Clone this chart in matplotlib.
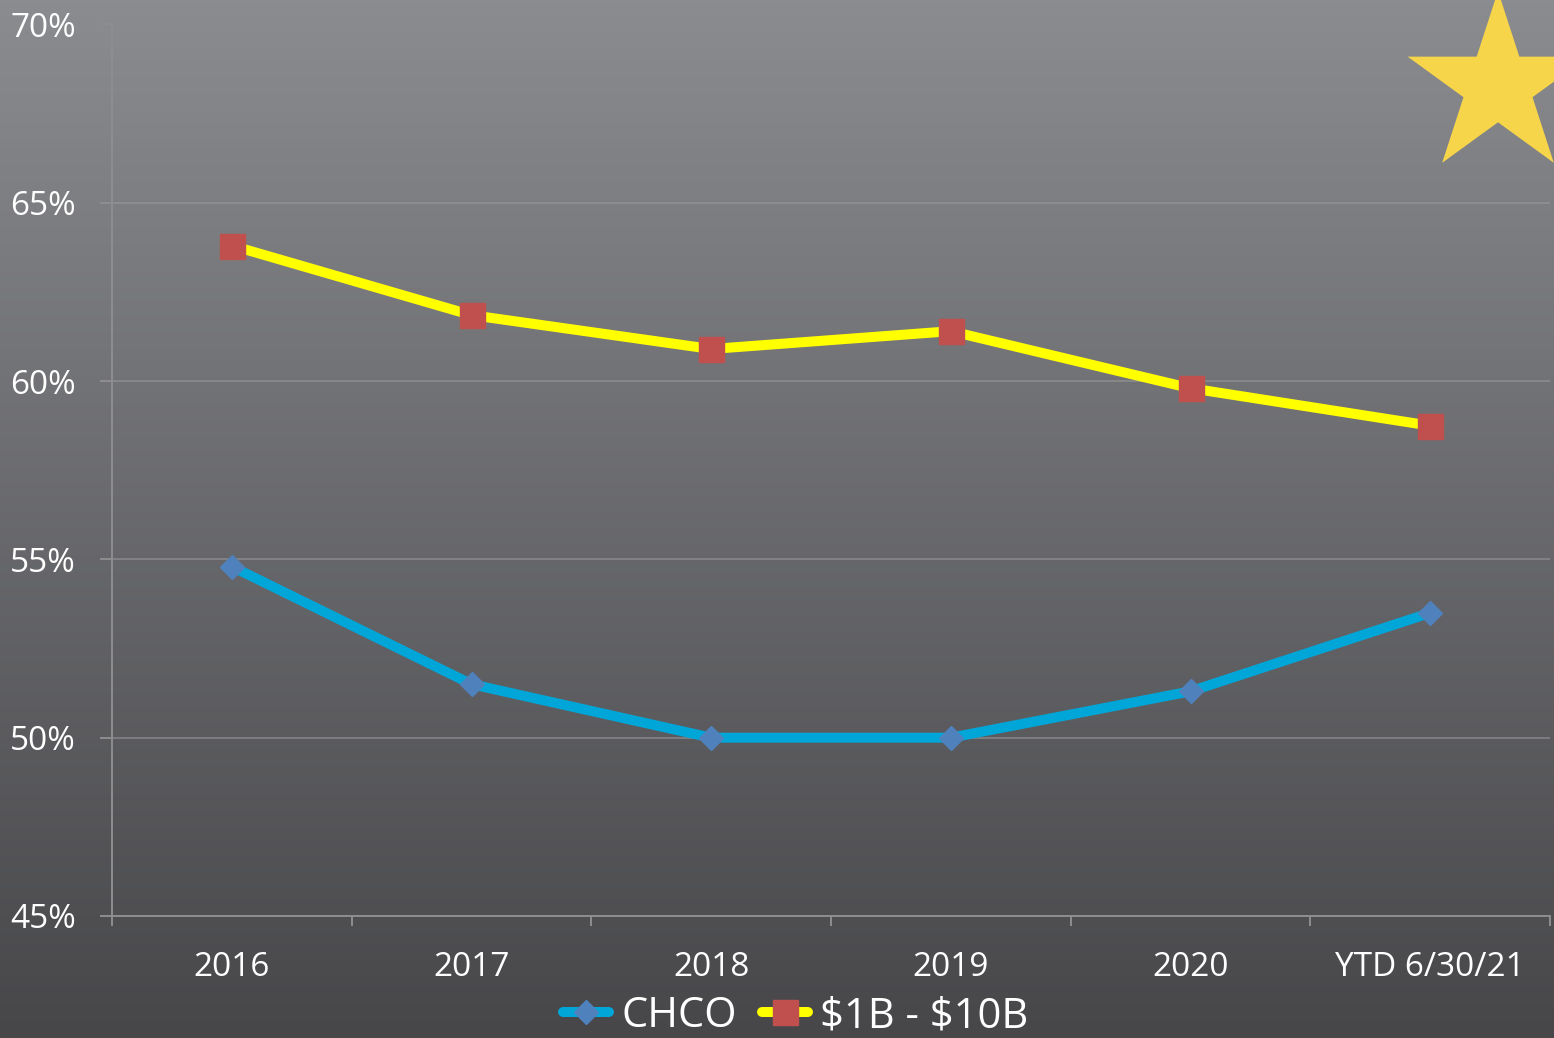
import matplotlib
matplotlib.use('Agg')
import matplotlib.pyplot as plt
import numpy as np
from matplotlib.colors import LinearSegmentedColormap
from matplotlib.patches import Polygon

plt.rcParams['font.family'] = ['Open Sans', 'DejaVu Sans']

categories = ['2016', '2017', '2018', '2019', '2020', 'YTD 6/30/21']
chco = [54.8, 51.5, 50.0, 50.0, 51.3, 53.5]
peer = [63.8, 61.85, 60.9, 61.4, 59.8, 58.75]
y_ticks = [45, 50, 55, 60, 65, 70]

W, H = 1554, 1038
fig = plt.figure(figsize=(W / 100, H / 100), dpi=100)

# gradient background
bg = fig.add_axes([0, 0, 1, 1], zorder=0)
grad = np.linspace(0, 1, 256).reshape(-1, 1)
cmap = LinearSegmentedColormap.from_list('bg', ['#8B8C90', '#47474A'])
bg.imshow(grad, cmap=cmap, aspect='auto', extent=[0, W, H, 0])
bg.set_xlim(0, W)
bg.set_ylim(H, 0)
bg.axis('off')

# star in the corner
cx, cy, R = 1498, 86, 95
pts = []
for k in range(10):
    ang = np.deg2rad(90 + 36 * k)
    r = R if k % 2 == 0 else R * 0.382
    pts.append((cx + r * np.cos(ang), cy - r * np.sin(ang)))
bg.add_patch(Polygon(pts, closed=True, facecolor='#F7D54A', edgecolor='none'))

ax = fig.add_axes([112 / W, 1 - 916 / H, (1550 - 112) / W, (916 - 24.5) / H], zorder=1)
ax.patch.set_alpha(0)

x = np.arange(len(categories))
ax.plot(x, chco, color='#00A6D8', linewidth=7.2, marker='D', markersize=12,
        markerfacecolor='#4F81BD', markeredgecolor='#4F81BD', label='CHCO',
        solid_capstyle='round', zorder=3)
ax.plot(x, peer, color='#FFFF00', linewidth=7.2, marker='s', markersize=18,
        markerfacecolor='#C0504D', markeredgecolor='#C0504D', label='\\$1B - \\$10B',
        solid_capstyle='round', zorder=3)

ax.set_xlim(-0.5, len(categories) - 0.5)
ax.set_ylim(45, 70)
ax.set_yticks(y_ticks)
ax.set_yticklabels([f'{v}%' for v in y_ticks])
ax.yaxis.grid(True, color='#9A9A9A', linewidth=1.4, alpha=0.55)
ax.set_axisbelow(True)

ax.set_xticks(np.arange(len(categories) + 1) - 0.5)
ax.set_xticklabels([])
ax.set_xticks(x, minor=True)
ax.set_xticklabels(categories, minor=True)
ax.tick_params(axis='x', which='major', length=7.5, width=1.4, color='#8E8E8E', direction='out')
ax.tick_params(axis='x', which='minor', length=0, pad=25, labelsize=24, labelcolor='white')
ax.tick_params(axis='y', length=9, width=1.4, color='#8E8E8E', pad=17,
               labelsize=24, labelcolor='white')

for s in ['top', 'right']:
    ax.spines[s].set_visible(False)
ax.spines['left'].set_color('#8E8E8E')
ax.spines['left'].set_linewidth(1.4)
ax.spines['bottom'].set_color('#8E8E8E')
ax.spines['bottom'].set_linewidth(1.4)

fig.legend(loc='center', bbox_to_anchor=(0.512, 1 - 1016 / H), ncol=2, frameon=False,
           fontsize=30, labelcolor='white', handlelength=1.1, handletextpad=0.3,
           columnspacing=0.6, borderaxespad=0)

fig.savefig('out.png', dpi=100)
